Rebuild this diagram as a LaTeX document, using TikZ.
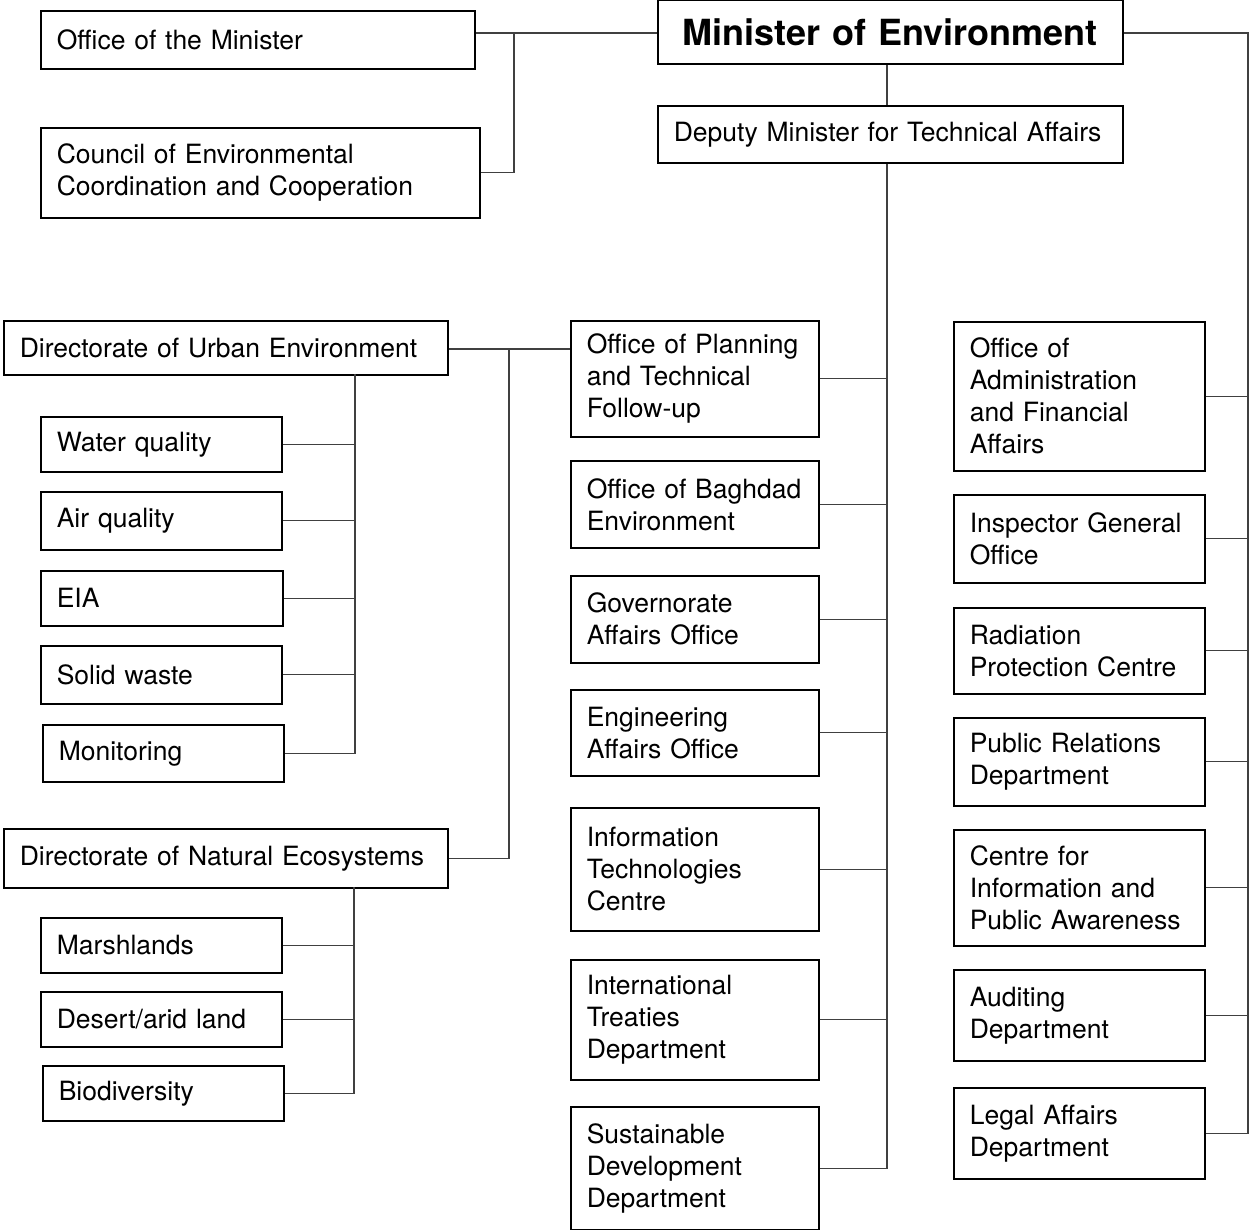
\documentclass[tikz,border=0pt]{standalone}
\usepackage{fontspec}
\setmainfont{TeX Gyre Heros}
\begin{document}
\begin{tikzpicture}[x=1pt,y=-1pt,
  box/.style={draw=black, line width=1.6pt, anchor=north west, inner xsep=16pt, inner ysep=0pt,
    align=left, font=\fontsize{26.5}{32}\selectfont},
  link/.style={draw=black!75, line width=1.1pt}]
\useasboundingbox (0,0) rectangle (1250,1230);

% --- top level ---
\node[box, minimum width=465pt, minimum height=64pt, text width=433pt, align=center,
  font=\fontsize{36}{40}\bfseries] (me) at (657,-0.5) {Minister of Environment};
\node[box, minimum width=465pt, minimum height=57pt, text width=433pt] (dm) at (657,105)
  {Deputy Minister for Technical Affairs};
\node[box, minimum width=434pt, minimum height=58pt, text width=402pt] (om) at (40,10)
  {Office of the Minister};
\node[box, minimum width=439pt, minimum height=90pt, text width=407pt] (cc) at (40,127)
  {Council of Environmental\\Coordination and Cooperation};

% --- directorates ---
\node[box, minimum width=444pt, minimum height=54pt, text width=412pt] (due) at (3,320)
  {Directorate of Urban Environment};
\node[box, minimum width=444pt, minimum height=59pt, text width=412pt] (dne) at (3,828)
  {Directorate of Natural Ecosystems};

\node[box, minimum width=241pt, minimum height=55pt, text width=209pt] (wq)  at (40,416)  {Water quality};
\node[box, minimum width=241pt, minimum height=58pt, text width=209pt] (aq)  at (40,491)  {Air quality};
\node[box, minimum width=242pt, minimum height=55pt, text width=210pt] (eia) at (40,570)  {EIA};
\node[box, minimum width=241pt, minimum height=58pt, text width=209pt] (sw)  at (40,645)  {Solid waste};
\node[box, minimum width=241pt, minimum height=57pt, text width=209pt] (mon) at (42,724)  {Monitoring};
\node[box, minimum width=241pt, minimum height=55pt, text width=209pt] (mar) at (40,917)  {Marshlands};
\node[box, minimum width=241pt, minimum height=55pt, text width=209pt] (des) at (40,991)  {Desert/arid land};
\node[box, minimum width=241pt, minimum height=55pt, text width=209pt] (bio) at (42,1065) {Biodiversity};

% --- technical offices ---
\node[box, minimum width=248pt, minimum height=116pt, text width=216pt] (opt) at (570,320)
  {Office of Planning\\and Technical\\Follow-up};
\node[box, minimum width=248pt, minimum height=87pt, text width=216pt] (obe) at (570,460)
  {Office of Baghdad\\Environment};
\node[box, minimum width=248pt, minimum height=87pt, text width=216pt] (gao) at (570,575)
  {Governorate\\Affairs Office};
\node[box, minimum width=248pt, minimum height=86pt, text width=216pt] (eao) at (570,689)
  {Engineering\\Affairs Office};
\node[box, minimum width=248pt, minimum height=123pt, text width=216pt] (itc) at (570,807)
  {Information\\Technologies\\Centre};
\node[box, minimum width=248pt, minimum height=120pt, text width=216pt] (itd) at (570,959)
  {International\\Treaties\\Department};
\node[box, minimum width=248pt, minimum height=123pt, text width=216pt] (sdd) at (570,1106)
  {Sustainable\\Development\\Department};

% --- offices reporting to the minister ---
\node[box, minimum width=251pt, minimum height=149pt, text width=219pt] (oaf) at (953,321)
  {Office of\\Administration\\and Financial\\Affairs};
\node[box, minimum width=251pt, minimum height=88pt, text width=219pt] (igo) at (953,494)
  {Inspector General\\Office};
\node[box, minimum width=251pt, minimum height=86pt, text width=219pt] (rpc) at (953,607)
  {Radiation\\Protection Centre};
\node[box, minimum width=251pt, minimum height=88pt, text width=219pt] (prd) at (953,717)
  {Public Relations\\Department};
\node[box, minimum width=251pt, minimum height=116pt, text width=219pt] (cip) at (953,829)
  {Centre for\\Information and\\Public Awareness};
\node[box, minimum width=251pt, minimum height=91pt, text width=219pt] (aud) at (953,969)
  {Auditing\\Department};
\node[box, minimum width=251pt, minimum height=91pt, text width=219pt] (lad) at (953,1087)
  {Legal Affairs\\Department};

% --- bus coordinates ---
\coordinate (tl) at (514,33);
\coordinate (rb) at (1248,33);
\coordinate (tk) at (887,63);
\coordinate (lb) at (509,349);
\coordinate (ub) at (355,374);
\coordinate (nb) at (354,887);

% minister, office and council
\draw[link] (me.west |- tl) -- (om.east |- tl);
\draw[link] (cc.east) -| (tl);
\draw[link] (me.south -| tk) -- (dm.north -| tk);

% right-hand bus
\draw[link] (me.east |- rb) -- (rb) -- (rb |- lad.east) -- (lad.east);
\foreach \n in {oaf,igo,rpc,prd,cip,aud}
  \draw[link] (\n.east) -- (\n.east -| rb);

% deputy minister trunk
\draw[link] (dm.south -| tk) -- (tk |- sdd.east) -- (sdd.east);
\foreach \n in {opt,obe,gao,eao,itc,itd}
  \draw[link] (\n.east) -- (\n.east -| tk);

% directorates
\draw[link] (due.east |- lb) -- (opt.west |- lb);
\draw[link] (lb) |- (dne.east);

\draw[link] (ub) -- (ub |- mon.east) -- (mon.east);
\foreach \n in {wq,aq,eia,sw}
  \draw[link] (\n.east) -- (\n.east -| ub);

\draw[link] (nb) -- (nb |- bio.east) -- (bio.east);
\foreach \n in {mar,des}
  \draw[link] (\n.east) -- (\n.east -| nb);
\end{tikzpicture}
\end{document}
